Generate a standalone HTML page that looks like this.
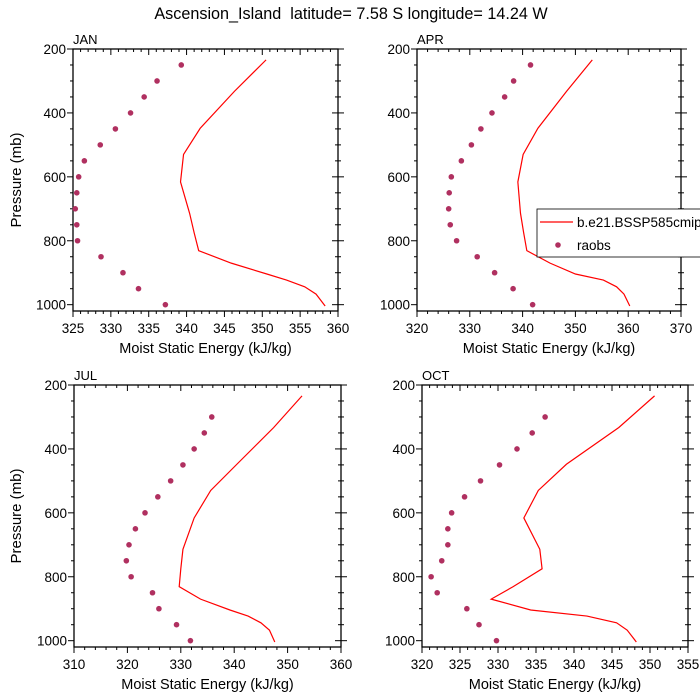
<!DOCTYPE html>
<html><head><meta charset="utf-8"><style>
body{margin:0;background:#fff}
svg{display:block;font-family:"Liberation Sans",sans-serif}
</style></head><body>
<svg id="c" width="700" height="700" viewBox="0 0 700 700">
<text x="351" y="19" font-size="16.2" text-anchor="middle" xml:space="preserve" style="white-space:pre">Ascension_Island  latitude= 7.58 S longitude= 14.24 W</text>
</svg>
<script>
const levels=[234,333,448,530,616,714,775,831,870,904,923,944,967,1004];
const obsLevels=[250,300,350,400,450,500,550,600,650,700,750,800,850,900,950,1000];
const janModel=[350.5,346.3,341.8,339.6,339.2,340.4,341.0,341.6,345.9,350.6,353.2,355.6,357.1,358.3];
const janObs=[339.3,336.1,334.4,332.6,330.6,328.6,326.5,325.75,325.5,325.3,325.5,325.6,328.7,331.6,333.65,337.2];
const aprModel=[353.2,348.3,342.9,340.1,339.1,339.6,340.2,340.8,345.2,350,355.3,357.8,359.2,360.3];
const aprObs=[341.5,338.3,336.6,334.2,332.1,330.3,328.4,326.5,326.1,326.0,326.3,327.5,331.4,334.7,338.2,341.9];
const julObsLevels=[300,350,400,450,500,550,600,650,700,750,800,850,900,950,1000];
const julModel=[352.7,347.4,340.5,335.6,332.5,330.4,330.0,329.7,333.7,339.2,342.6,345,346.6,347.6];
const julObs=[335.8,334.4,332.5,330.4,328.1,325.7,323.3,321.5,320.3,319.8,320.7,324.7,325.9,329.2,331.8];
const octModel=[350.6,345.9,339,335.3,333.4,335.5,335.8,332,329.1,334.3,341.7,345.6,347,348.2];
const octObs=[336.2,334.5,332.5,330.2,327.7,325.6,323.9,323.4,323.4,322.6,321.2,322.0,325.9,327.5,329.8];
const janTicks=[325,330,335,340,345,350,355,360];
const aprTicks=[320,330,340,350,360,370];
const julTicks=[310,320,330,340,350,360];
const octTicks=[320,325,330,335,340,345,350,355];
const yTicks=[200,400,600,800,1000];

const svg=document.getElementById('c');
const NS='http://www.w3.org/2000/svg';
function mk(t,a,p){const e=document.createElementNS(NS,t);for(const k in a)e.setAttribute(k,a[k]);(p||svg).appendChild(e);return e;}

function panel(name,L,R,T,xmin,xmax,xticks,minorStep,model,obsP,obs,showY){
  const B=T+262;
  const g=mk('g',{});
  
  
  const xs=v=>L+(v-xmin)/(xmax-xmin)*(R-L);
  const ys=p=>T+(p-200)*0.3196;
  mk('rect',{x:L,y:T,width:R-L,height:B-T,fill:'none',stroke:'#000','stroke-width':1.3},g);
  const lab=mk('text',{x:L,y:T-5,'font-size':13},g);lab.textContent=name.toUpperCase();
  
  for(let v=xmin;v<=xmax+1e-6;v+=minorStep){
    const x=xs(v);const maj=xticks.some(t=>Math.abs(t-v)<1e-6);
    const l=maj?6:3;
    mk('line',{x1:x,y1:B,x2:x,y2:B+l,stroke:'#000','stroke-width':1},g);
    mk('line',{x1:x,y1:T,x2:x,y2:T+l,stroke:'#000','stroke-width':1},g);
  }
  xticks.forEach(v=>{const t=mk('text',{x:xs(v),y:B+22,'font-size':13.5,'text-anchor':'middle'},g);t.textContent=v;
    });
  for(let p=200;p<=1000;p+=50){
    const y=ys(p);const maj=p%200===0;const l=maj?6:3;
    mk('line',{x1:L-l,y1:y,x2:L,y2:y,stroke:'#000','stroke-width':1},g);
    mk('line',{x1:R-l,y1:y,x2:R+l,y2:y,stroke:'#000','stroke-width':1},g);
  }
  yTicks.forEach(p=>{const t=mk('text',{x:L-7,y:ys(p)+5,'font-size':13.5,'text-anchor':'end'},g);t.textContent=p;
    });
  const xt=mk('text',{x:(L+R)/2,y:B+42,'font-size':14.5,'text-anchor':'middle'},g);xt.textContent='Moist Static Energy (kJ/kg)';
  
  if(showY){const yt=mk('text',{x:0,y:0,'font-size':15,'text-anchor':'middle',transform:`translate(21,${(T+B)/2}) rotate(-90)`},g);yt.textContent='Pressure (mb)';
    }
  const pl=mk('polyline',{points:model.map((v,i)=>xs(v)+','+ys(levels[i])).join(' '),fill:'none',stroke:'#ff0000','stroke-width':1.2},g);
  
  obs.forEach((v,i)=>{const c=mk('circle',{cx:xs(v),cy:ys(obsP[i]),r:2.8,fill:'#b03060'},g);
    });
}
panel('jan',73,338,49,325,360,janTicks,1,janModel,obsLevels,janObs,true);
panel('apr',417,681,49,320,370,aprTicks,2,aprModel,obsLevels,aprObs,false);
panel('jul',74,341,385,310,360,julTicks,2,julModel,julObsLevels,julObs,true);
panel('oct',422,688,385,320,355,octTicks,1,octModel,julObsLevels,octObs,false);

const lg=mk('g',{});


mk('rect',{x:537,y:209,width:170,height:48,fill:'#fff',stroke:'#000','stroke-width':0.8},lg);
mk('line',{x1:540,y1:222,x2:573,y2:222,stroke:'#ff0000','stroke-width':1.2},lg);
const t1=mk('text',{x:577,y:227,'font-size':13.5},lg);t1.textContent='b.e21.BSSP585cmip';

mk('circle',{cx:558,cy:245,r:2.8,fill:'#b03060'},lg);
const t2=mk('text',{x:577,y:250,'font-size':13.5},lg);t2.textContent='raobs';

</script>
</body></html>
